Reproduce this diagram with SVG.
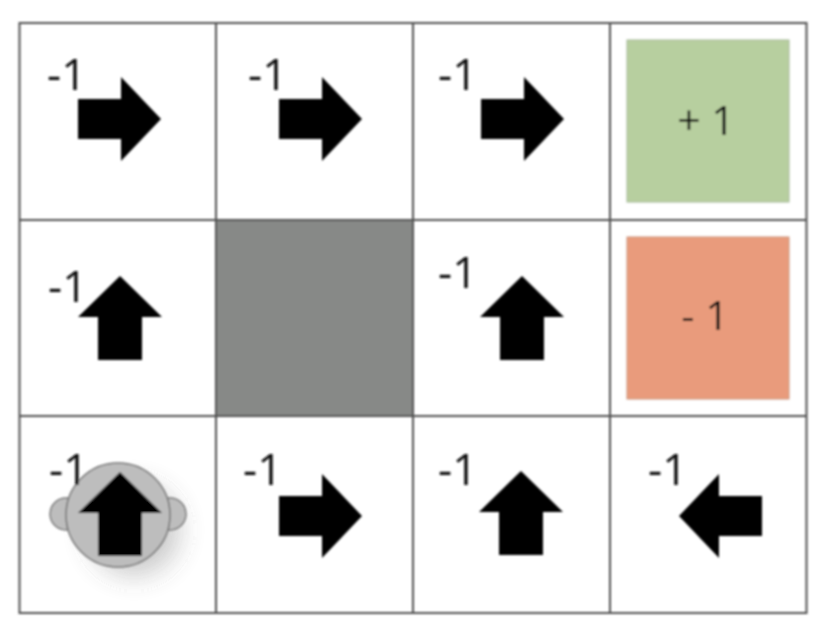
<svg xmlns="http://www.w3.org/2000/svg" width="828" height="632" viewBox="0 0 828 632">
<defs>
<filter id="soft" x="-5%" y="-5%" width="110%" height="110%"><feGaussianBlur stdDeviation="0.8"/></filter>
<filter id="shadow" x="-60%" y="-60%" width="220%" height="220%"><feGaussianBlur stdDeviation="13"/></filter>
<path id="right" d="M-41 -20H2V-42L42 0L2 42V20H-41Z"/>
<path id="up" d="M0 -42L42 -1H22V42H-22V-1H-42Z"/>
<path id="left" d="M41 -20H-2V-42L-42 0L-2 42V20H41Z"/>
</defs>
<style>
.l{font-family:"Open Sans","Noto Sans",sans-serif;font-size:44px;font-weight:400;fill:#111;stroke:none}
.v{font-size:41px}
.g{stroke:#505050;stroke-width:2;fill:none}
</style>
<rect width="828" height="632" fill="#fff"/>
<g filter="url(#soft)">
<g id="cell-wall"><rect x="216" y="220" width="197" height="196" fill="#878987"/></g>
<g id="goal"><rect x="627" y="40" width="162" height="162" fill="#b7cf9f" stroke="#a5b898" stroke-width="1"/><text class="l v" x="706" y="135" text-anchor="middle">+ 1</text></g>
<g id="pit"><rect x="627" y="237" width="162" height="162" fill="#e99b7b" stroke="#c9937c" stroke-width="1"/><text class="l v" x="705" y="330" text-anchor="middle">- 1</text></g>
<g id="grid" class="g"><rect x="19.500" y="23" width="787" height="590"/><path d="M216 23V613M413 23V613M610 23V613M19.500 220H806.500M19.500 416H806.500"/></g>
<g id="robot">
<ellipse cx="134" cy="530" rx="46" ry="46" fill="#555" opacity=".3" filter="url(#shadow)"/>
<circle cx="66" cy="514" r="16" fill="#bdbdbd" stroke="#777" stroke-width="1.500"/>
<circle cx="170" cy="514" r="16" fill="#bdbdbd" stroke="#777" stroke-width="1.500"/>
<circle cx="118" cy="515" r="52" fill="#bdbdbd" stroke="#707070" stroke-width="1.500"/>
</g>
<g id="cell-0-0"><use href="#right" x="119" y="119"/><text class="l" x="47" y="90">-1</text></g>
<g id="cell-0-1"><use href="#right" x="320" y="119"/><text class="l" x="248" y="90">-1</text></g>
<g id="cell-0-2"><use href="#right" x="522" y="119"/><text class="l" x="438" y="90">-1</text></g>
<g id="cell-1-0"><use href="#up" x="120" y="318"/><text class="l" x="48" y="302">-1</text></g>
<g id="cell-1-2"><use href="#up" x="522" y="318"/><text class="l" x="438" y="288">-1</text></g>
<g id="cell-2-0"><use href="#up" x="120" y="514"/><text class="l" x="49" y="485">-1</text></g>
<g id="cell-2-1"><use href="#right" x="320" y="516"/><text class="l" x="243" y="485">-1</text></g>
<g id="cell-2-2"><use href="#up" x="521" y="513"/><text class="l" x="438" y="485">-1</text></g>
<g id="cell-2-3"><use href="#left" x="721" y="516"/><text class="l" x="648" y="485">-1</text></g>
</g>
</svg>
